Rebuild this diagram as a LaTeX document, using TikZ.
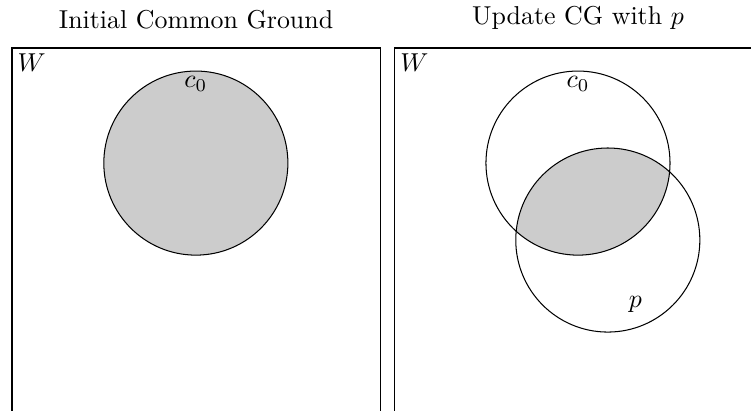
\documentclass[tikz,border=0pt]{standalone}
\usepackage{amssymb}
\usepackage{tikz}
\usetikzlibrary{positioning}

\begin{document}
\begin{tikzpicture}[inner sep=2pt]
            \useasboundingbox (0,0) rectangle (10.2,-5.57);

            \tikzstyle{myWorld}=[draw];
            \tikzstyle{mySet}=[circle,draw,minimum size=2.5cm,inner sep=0pt];
            \tikzstyle{myTitle}=[inner sep=3.33pt];

            % corners and centres
            \coordinate (w1) at (0.163,-0.652);
            \coordinate (w2) at (5.36,-0.652);
            \coordinate (t1) at (2.663,-0.652);
            \coordinate (t2) at (7.85,-0.652);
            \coordinate (c2) at (7.85,-2.215);
            \coordinate (p) at (8.255,-3.26);

            % left panel
            \draw[myWorld] (w1) rectangle (5.163,-6.5);
            \node[myTitle, above=1.3mm of t1] (title1) {Initial Common Ground};
            \node[anchor=north west] (W1) at (w1) {$W$};
            \node[mySet, fill=gray!40] (1) at (2.66,-2.215) {};
            \node[anchor=north] (c01) at (1.north) {$c_0$};

            % right panel
            \draw[myWorld] (w2) rectangle (10.6,-6.5);
            \node[myTitle, above=1.3mm of t2] (title2) {Update CG with $p$};
            \node[anchor=north west] (W2) at (w2) {$W$};
            \begin{scope}
                \clip (c2) circle (1.25);
                \fill[gray!40] (p) circle (1.25);
            \end{scope}
            \node[mySet] (2) at (c2) {};
            \node[mySet] (3) at (p) {};
            \node[anchor=north] (c02) at (2.north) {$c_0$};
            \node (p1) at (8.63,-4.14) {$p$};
         \end{tikzpicture}
\end{document}
